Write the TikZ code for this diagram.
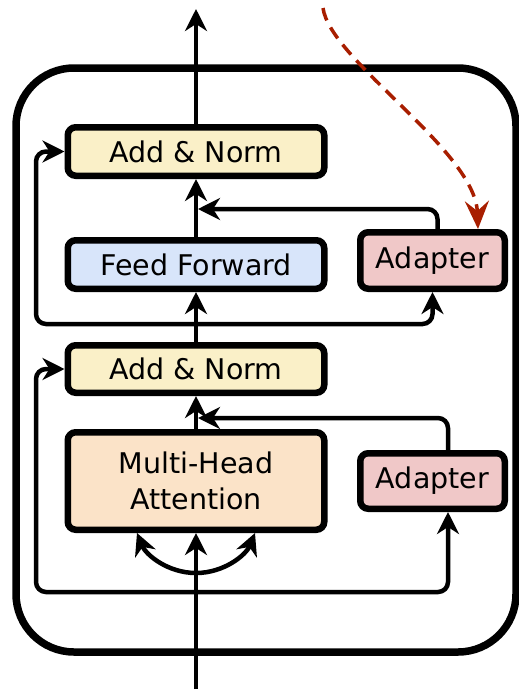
\documentclass[tikz,border=0pt]{standalone}
\usepackage{fontspec}
\setmainfont{DejaVu Sans}
\usetikzlibrary{arrows.meta}

\definecolor{normfill}{RGB}{250,240,200}
\definecolor{fffill}{RGB}{216,229,250}
\definecolor{adapterfill}{RGB}{240,200,200}
\definecolor{attnfill}{RGB}{251,227,200}
\definecolor{adaptred}{RGB}{168,30,0}

\tikzset{
  block/.style={draw=black, line width=6.5pt, rounded corners=8pt,
    minimum width=256.5pt, inner sep=0pt, align=center,
    font=\fontsize{28.5}{36}\selectfont},
  adapterbox/.style={block, fill=adapterfill, minimum width=144.5pt},
  arr/.style={line width=4.5pt, -{Stealth[length=22pt,width=22pt,inset=7pt]}},
  adaptarrow/.style={draw=adaptred, line width=3.5pt, dash pattern=on 13pt off 8pt,
    -{Stealth[length=28pt,width=24pt,inset=10pt]}}
}

\begin{document}
\begin{tikzpicture}[x=1pt,y=-1pt]
\useasboundingbox (0,0) rectangle (519,691);

% enclosing layer
\node[draw, line width=7.5pt, rounded corners=58pt, minimum width=500pt,
      minimum height=584pt, inner sep=0pt] (layer) at (266,360) {};

% blocks
\node[block, fill=normfill, minimum height=48.5pt] (an1) at (196,151.5) {Add \& Norm};
\node[block, fill=fffill, minimum height=48.5pt] (ff) at (196,264.5) {Feed Forward};
\node[adapterbox, minimum height=56.5pt] (adT) at (432.5,260.5) {Adapter};
\node[block, fill=normfill, minimum height=47.5pt] (an2) at (196,369) {Add \& Norm};
\node[block, fill=attnfill, minimum height=97.5pt] (mha) at (196,481) {Multi-Head\\Attention};
\node[adapterbox, minimum height=55.5pt] (adB) at (432.5,481) {Adapter};

% points on the main path
\coordinate (in) at (196,689);
\coordinate (out) at (196,9);
\coordinate (b1) at (196,324);
\coordinate (b2) at (196,592);
\coordinate (b3) at (196,573);
\coordinate (j1) at (198,209);
\coordinate (j2) at (198,418);
\coordinate (src) at (323,8);

% main path
\draw[arr] (in) -- (mha.south);
\draw[arr] (mha.north) -- (an2.south);
\draw[arr] (an2.north) -- (ff.south);
\draw[arr] (ff.north) -- (an1.south);
\draw[arr] (an1.north) -- (out);

% attention inputs
\draw[arr] (b3) .. controls (168,573) and (146,555) .. ([xshift=-59pt]mha.south);
\draw[arr] (b3) .. controls (224,573) and (246,555) .. ([xshift=59pt]mha.south);

% residual connections
\draw[arr, rounded corners=10pt] (b1) -- (36,324) |- (an1.west);
\draw[arr, rounded corners=10pt] (b1) -| (adT.south);
\draw[arr, rounded corners=10pt] (b2) -- (36,592) |- (an2.west);
\draw[arr, rounded corners=10pt] (b2) -| ([xshift=15.5pt]adB.south);

% adapter outputs
\draw[arr, rounded corners=10pt] ([xshift=5pt]adT.north) |- (j1);
\draw[arr, rounded corners=10pt] ([xshift=15.5pt]adB.north) |- (j2);

% inserted adapter
\draw[adaptarrow] (src) .. controls (330,60) and (475,150) .. ([xshift=45.5pt]adT.north);
\end{tikzpicture}
\end{document}
